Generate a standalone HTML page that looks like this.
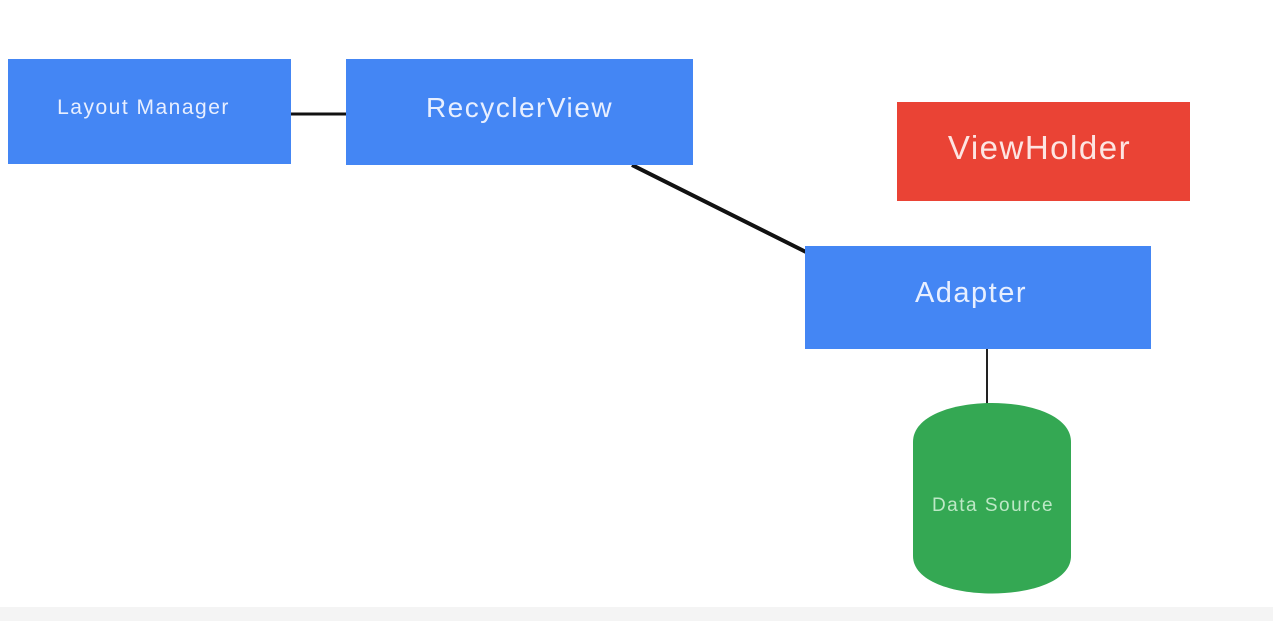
<!DOCTYPE html>
<html><head><style>
body{margin:0;width:1273px;height:621px;background:#fff;position:relative;overflow:hidden;font-family:"Liberation Sans",sans-serif}
.b{position:absolute;color:#e8efff;display:flex;align-items:center;justify-content:center;letter-spacing:1.5px;box-sizing:border-box;padding-bottom:8px}
</style></head><body>
<div style="position:absolute;left:0;top:607px;width:1273px;height:14px;background:#f4f4f4"></div>
<svg width="1273" height="621" style="position:absolute;left:0;top:0">
<line x1="291" y1="114" x2="346" y2="114" stroke="#111" stroke-width="3"/>
<line x1="632" y1="165" x2="806" y2="252" stroke="#111" stroke-width="4"/>
<line x1="987" y1="348" x2="987" y2="406" stroke="#222" stroke-width="2"/>
<path d="M913,442 C913,390 1071,390 1071,442 L1071,556 C1071,606 913,606 913,556 Z" fill="#34a853"/>
<text x="993" y="511" fill="#bde8c6" font-size="19" text-anchor="middle" font-family="Liberation Sans" letter-spacing="1.5">Data Source</text>
</svg>
<div class="b" style="left:8px;top:59px;width:273px;height:105px;background:#4486f4;font-size:21px;width:283px;padding-right:12px">Layout Manager</div>
<div class="b" style="left:346px;top:59px;width:347px;height:106px;background:#4486f4;font-size:28px">RecyclerView</div>
<div class="b" style="left:897px;top:102px;width:293px;height:99px;background:#ea4335;font-size:33px;color:#fde5e2;padding-right:8px">ViewHolder</div>
<div class="b" style="left:805px;top:246px;width:346px;height:103px;background:#4486f4;font-size:29px;padding-right:14px">Adapter</div>
</body></html>
